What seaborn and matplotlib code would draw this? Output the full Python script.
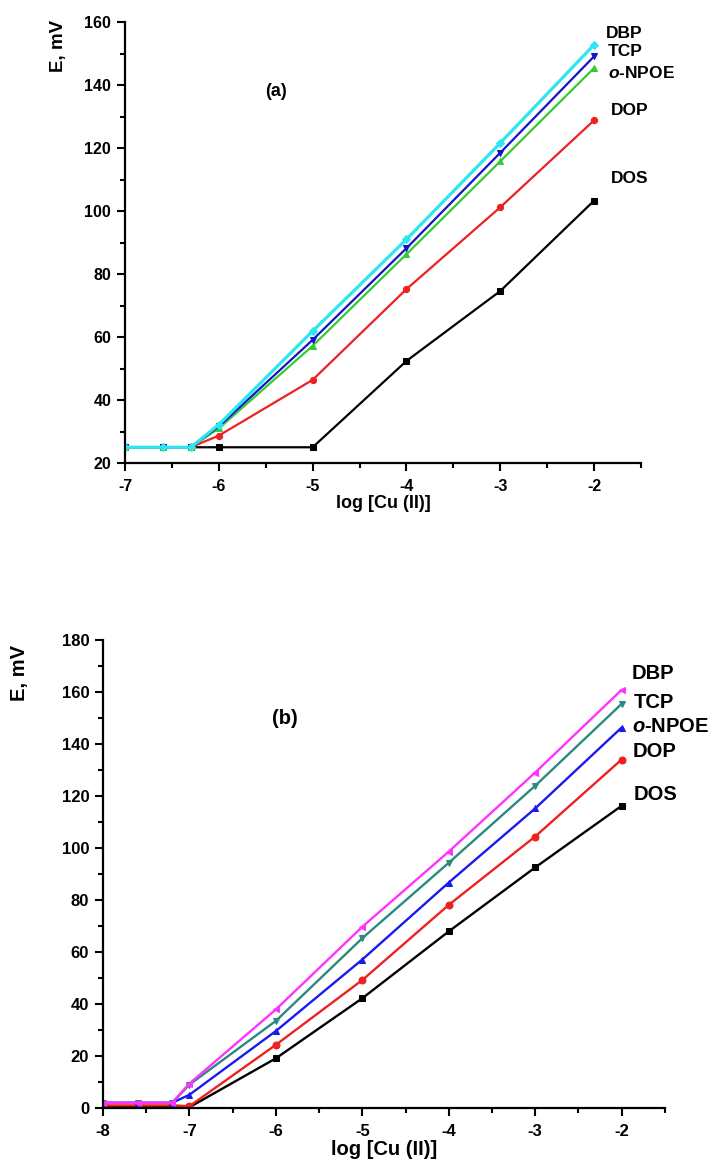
import seaborn as sns
import matplotlib.pyplot as plt
from matplotlib.ticker import MultipleLocator

# Panel (a) data
x_a = [-7, -6.6, -6.3, -6, -5, -4, -3, -2]
dbp_a = [25, 25, 25, 32.2, 61.9, 91.0, 121.6, 152.8]
tcp_a = [25, 25, 25, 31.6, 59.1, 88.2, 118.5, 149.1]
npoe_a = [25, 25, 25, 31.0, 57.2, 86.3, 115.8, 145.4]
dop_a = [25, 25, 25, 28.7, 46.4, 75.2, 101.2, 128.8]
dos_a = [25, 25, 25, 25.0, 25.0, 52.4, 74.6, 103.3]

# Panel (b) data
x_b = [-8, -7.6, -7.2, -7, -6, -5, -4, -3, -2]
dbp_b = [2.0, 2.0, 2.0, 9.4, 37.9, 69.7, 98.6, 129.0, 160.8]
tcp_b = [2.0, 2.0, 2.0, 9.0, 33.5, 65.3, 94.3, 123.9, 155.4]
npoe_b = [2.0, 2.0, 2.0, 5.1, 29.6, 57.1, 86.7, 115.2, 146.3]
dop_b = [1.0, 1.0, 1.0, 0.7, 24.3, 49.2, 78.1, 104.4, 134.0]
dos_b = [0.5, 0.5, 0.5, 0.3, 19.1, 42.2, 67.9, 92.5, 116.2]

names = ["DBP", "TCP", r"$\mathit{o}$-NPOE", "DOP", "DOS"]

sns.set_style("ticks")
plt.rcParams['font.family'] = ['Liberation Sans', 'DejaVu Sans']
plt.rcParams['font.weight'] = 'bold'
plt.rcParams['text.color'] = 'black'
plt.rcParams['axes.labelcolor'] = 'black'
plt.rcParams['axes.unicode_minus'] = False
plt.rcParams['mathtext.fontset'] = 'custom'
plt.rcParams['mathtext.it'] = 'Liberation Sans:italic:bold'
plt.rcParams['mathtext.rm'] = 'Liberation Sans:bold'


def style_axes(ax, xlim, ylim, ystep, tick_fs, label_fs):
    ax.set_xlim(*xlim)
    ax.set_ylim(*ylim)
    ax.xaxis.set_major_locator(MultipleLocator(1))
    ax.xaxis.set_minor_locator(MultipleLocator(0.5))
    ax.yaxis.set_major_locator(MultipleLocator(ystep))
    ax.yaxis.set_minor_locator(MultipleLocator(ystep / 2))
    sns.despine(ax=ax)
    for s in ["left", "bottom"]:
        ax.spines[s].set_linewidth(1.6)
        ax.spines[s].set_color("black")
    ax.tick_params(which="major", length=6, width=1.5, color="black",
                   labelsize=tick_fs, pad=4, labelcolor="black")
    ax.tick_params(which="minor", length=3.6, width=1.5, color="black")
    ax.tick_params(axis="x", which="major", pad=5.5)
    for lab in ax.get_xticklabels() + ax.get_yticklabels():
        lab.set_fontweight("bold")
    ax.set_xlabel("log [Cu (II)]", fontsize=label_fs, fontweight="bold", labelpad=1)
    ax.set_ylabel("")


fig = plt.figure(figsize=(7.12, 11.71), dpi=100)

# ---------- panel (a)
ax1 = fig.add_axes([0.1756, 0.6046, 0.7247, 0.3766])
series_a = [dbp_a, tcp_a, npoe_a, dop_a, dos_a]
colors_a = ["#2ee6f2", "#1414c8", "#33cc33", "#ee2020", "black"]
markers_a = ["D", "v", "^", "o", "s"]
for ys, c, m in reversed(list(zip(series_a, colors_a, markers_a))):
    sns.lineplot(x=x_a, y=ys, ax=ax1, color=c, marker=m, markersize=4.5,
                 markeredgecolor=c, linewidth=1.6 if c != "#2ee6f2" else 2.3)
style_axes(ax1, (-7, -1.5), (20, 160), 20, 11.5, 13)
ax1.text(-0.128, 0.945, "E, mV", transform=ax1.transAxes, rotation=90,
         ha="center", va="center", fontsize=13.5, fontweight="bold")
ax1.text(-5.39, 137.8, "(a)", ha="center", va="center", fontsize=13, fontweight="bold")
label_pos_a = [(-1.87, 156.3), (-1.85, 150.5), (-1.85, 143.8), (-1.82, 132.0), (-1.82, 110.3)]
for name, (tx, ty) in zip(names, label_pos_a):
    ax1.text(tx, ty, name, ha="left", va="center", fontsize=12.5,
             fontweight="bold", clip_on=False)

# ---------- panel (b)
ax2 = fig.add_axes([0.1447, 0.0538, 0.789, 0.3997])
series_b = [dbp_b, tcp_b, npoe_b, dop_b, dos_b]
colors_b = ["#ff33ff", "#2a8a80", "#1a1aee", "#ee2020", "black"]
markers_b = ["<", "v", "^", "o", "s"]
for ys, c, m in reversed(list(zip(series_b, colors_b, markers_b))):
    sns.lineplot(x=x_b, y=ys, ax=ax2, color=c, marker=m, markersize=5,
                 markeredgecolor=c, linewidth=1.7)
style_axes(ax2, (-8, -1.5), (0, 180), 20, 12, 14.5)
ax2.text(-0.148, 0.93, "E, mV", transform=ax2.transAxes, rotation=90,
         ha="center", va="center", fontsize=14.5, fontweight="bold")
ax2.text(-5.9, 149.6, "(b)", ha="center", va="center", fontsize=14.5, fontweight="bold")
label_pos_b = [(-1.88, 167.0), (-1.86, 156.0), (-1.88, 146.7), (-1.87, 137.0), (-1.86, 120.7)]
for name, (tx, ty) in zip(names, label_pos_b):
    ax2.text(tx, ty, name, ha="left", va="center", fontsize=14.5,
             fontweight="bold", clip_on=False)

fig.savefig("out.png", dpi=100)
plt.close()
